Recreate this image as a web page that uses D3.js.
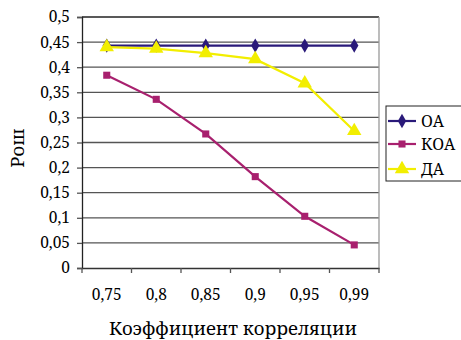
<!DOCTYPE html>
<html><head><meta charset="utf-8">
<script src="https://cdn.jsdelivr.net/npm/d3@7"></script>
<style>body{margin:0;background:#fff}svg{display:block}</style>
</head><body><svg id="c" width="461" height="340"></svg>
<script>
const categories = ["0,75","0,8","0,85","0,9","0,95","0,99"];
const yTicks = [0,0.05,0.1,0.15,0.2,0.25,0.3,0.35,0.4,0.45,0.5];
const seriesNames = ["ОА","КОА","ДА"];
const oaValues = [0.443,0.443,0.443,0.443,0.443,0.443];
const koaValues = [0.384,0.336,0.267,0.182,0.103,0.046];
const daValues = [0.440,0.437,0.428,0.416,0.368,0.273];
const colors = ["#2a1a7a","#a8206e","#f2ee00"];
const shapes = [d3.symbolDiamond, d3.symbolSquare, d3.symbolTriangle];
const FONT = "'Noto Serif', 'DejaVu Serif', serif";

const svg = d3.select("#c");
const L=82, R=379, T=17, B=268;
const x = d3.scaleBand().domain(categories).range([L,R]);
const y = d3.scaleLinear().domain([0,0.5]).range([B,T]);
const fmt = d => String(d).replace(".",",");

svg.append("g").selectAll("line").data(yTicks.filter(d=>d>0)).join("line")
  .attr("x1",L).attr("x2",R).attr("y1",d=>y(d)).attr("y2",d=>y(d))
  .attr("stroke",d=>d===0.5?"#222":"#555").attr("stroke-width",1.3);
svg.append("line").attr("x1",R).attr("x2",R).attr("y1",T).attr("y2",B).attr("stroke","#999").attr("stroke-width",1.3);

const ya = svg.append("g").attr("transform",`translate(${L},0)`)
  .call(d3.axisLeft(y).tickValues(yTicks).tickFormat(fmt).tickSize(5).tickPadding(7));
ya.attr("font-family",FONT).attr("font-size",15.5);
ya.select(".domain").attr("stroke","#222").attr("stroke-width",1.3);
ya.selectAll(".tick line").attr("stroke","#555").attr("stroke-width",1.3);
ya.selectAll("text").attr("fill","#000");

const xa = svg.append("g").attr("transform",`translate(0,${B})`)
  .call(d3.axisBottom(x).tickSize(0).tickPadding(21));
xa.attr("font-family",FONT).attr("font-size",15.5);
xa.select(".domain").attr("stroke","#333").attr("stroke-width",1.3);
xa.selectAll("text").attr("fill","#000");
const edges = categories.map(c=>x(c)).concat([R]);
svg.append("g").selectAll("line").data(edges).join("line")
  .attr("x1",d=>d).attr("x2",d=>d).attr("y1",B).attr("y2",B+5).attr("stroke","#555").attr("stroke-width",1.3);

const all = [oaValues,koaValues,daValues];
const sizes = [60,50,90];
const line = d3.line().x((d,i)=>x(categories[i])+x.bandwidth()/2).y(d=>y(d));
all.forEach((vals,k)=>{
  svg.append("path").datum(vals).attr("d",line).attr("fill","none")
    .attr("stroke",colors[k]).attr("stroke-width",2.2);
  svg.append("g").selectAll("path").data(vals).join("path")
    .attr("transform",(d,i)=>`translate(${x(categories[i])+x.bandwidth()/2},${y(d)})`)
    .attr("d",d3.symbol(shapes[k],sizes[k])).attr("fill",colors[k]);
});

const lg = svg.append("g").attr("font-family",FONT);
lg.append("rect").attr("x",386).attr("y",106).attr("width",80).attr("height",75)
  .attr("fill","#fff").attr("stroke","#222").attr("stroke-width",1);
const ly = [121,144,169];
seriesNames.forEach((n,k)=>{
  lg.append("line").attr("x1",388).attr("x2",416).attr("y1",ly[k]).attr("y2",ly[k])
    .attr("stroke",colors[k]).attr("stroke-width",2.2);
  lg.append("path").attr("transform",`translate(402,${ly[k]})`)
    .attr("d",d3.symbol(shapes[k],sizes[k])).attr("fill",colors[k]);
  lg.append("text").attr("x",421).attr("y",ly[k]).attr("dy","0.35em")
    .attr("font-size",16).text(n);
});

svg.append("text").attr("x",233).attr("y",335).attr("text-anchor","middle")
  .attr("font-family",FONT).attr("font-size",18.5).text("Коэффициент корреляции");
svg.append("text").attr("transform","translate(24,148) rotate(-90)").attr("text-anchor","middle")
  .attr("font-family",FONT).attr("font-size",18.5).text("Рош");
</script></body></html>
